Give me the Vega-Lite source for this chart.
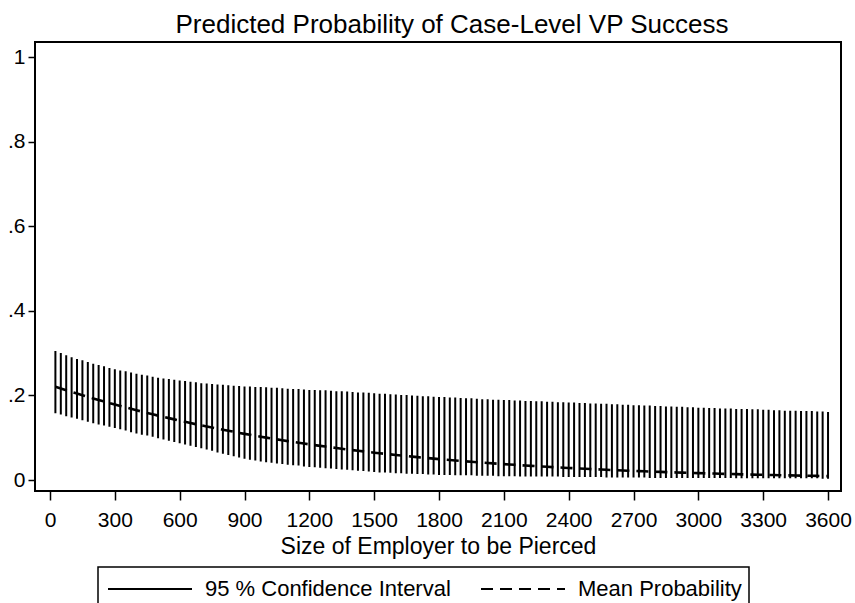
{
  "$schema": "https://vega.github.io/schema/vega-lite/v6.json",
  "width": 806,
  "height": 449,
  "autosize": "none",
  "padding": {"left": 35, "top": 42, "right": 14, "bottom": 112},
  "background": "white",
  "title": {
    "text": "Predicted Probability of Case-Level VP Success",
    "font": "Liberation Sans",
    "fontSize": 26,
    "fontWeight": "normal",
    "color": "black",
    "anchor": "middle",
    "offset": 4,
    "dx": 14
  },
  "data": {"values": [
    {"x":25,"lo":0.158,"hi":0.305,"m":0.2204},{"x":50,"lo":0.155,"hi":0.300,"m":0.2163},{"x":75,"lo":0.151,"hi":0.295,"m":0.2123},{"x":100,"lo":0.148,"hi":0.290,"m":0.2082},
    {"x":125,"lo":0.145,"hi":0.286,"m":0.2044},{"x":150,"lo":0.141,"hi":0.283,"m":0.2006},{"x":175,"lo":0.138,"hi":0.279,"m":0.1967},{"x":200,"lo":0.134,"hi":0.275,"m":0.1929},
    {"x":225,"lo":0.131,"hi":0.272,"m":0.1893},{"x":250,"lo":0.129,"hi":0.269,"m":0.1857},{"x":275,"lo":0.126,"hi":0.265,"m":0.1821},{"x":300,"lo":0.123,"hi":0.262,"m":0.1785},
    {"x":325,"lo":0.120,"hi":0.259,"m":0.1751},{"x":350,"lo":0.117,"hi":0.257,"m":0.1717},{"x":375,"lo":0.113,"hi":0.254,"m":0.1683},{"x":400,"lo":0.110,"hi":0.251,"m":0.1649},
    {"x":425,"lo":0.107,"hi":0.249,"m":0.1617},{"x":450,"lo":0.105,"hi":0.247,"m":0.1586},{"x":475,"lo":0.102,"hi":0.244,"m":0.1554},{"x":500,"lo":0.099,"hi":0.242,"m":0.1522},
    {"x":525,"lo":0.096,"hi":0.240,"m":0.1492},{"x":550,"lo":0.093,"hi":0.239,"m":0.1463},{"x":575,"lo":0.090,"hi":0.237,"m":0.1433},{"x":600,"lo":0.087,"hi":0.235,"m":0.1403},
    {"x":625,"lo":0.084,"hi":0.234,"m":0.1375},{"x":650,"lo":0.081,"hi":0.232,"m":0.1347},{"x":675,"lo":0.078,"hi":0.231,"m":0.1319},{"x":700,"lo":0.075,"hi":0.229,"m":0.1291},
    {"x":725,"lo":0.072,"hi":0.228,"m":0.1265},{"x":750,"lo":0.069,"hi":0.227,"m":0.1240},{"x":775,"lo":0.065,"hi":0.226,"m":0.1214},{"x":800,"lo":0.062,"hi":0.225,"m":0.1188},
    {"x":825,"lo":0.059,"hi":0.224,"m":0.1164},{"x":850,"lo":0.056,"hi":0.223,"m":0.1140},{"x":875,"lo":0.053,"hi":0.222,"m":0.1115},{"x":900,"lo":0.050,"hi":0.221,"m":0.1091},
    {"x":925,"lo":0.048,"hi":0.221,"m":0.1069},{"x":950,"lo":0.046,"hi":0.220,"m":0.1047},{"x":975,"lo":0.044,"hi":0.220,"m":0.1024},{"x":1000,"lo":0.042,"hi":0.219,"m":0.1002},
    {"x":1025,"lo":0.041,"hi":0.218,"m":0.0981},{"x":1050,"lo":0.039,"hi":0.218,"m":0.0961},{"x":1075,"lo":0.038,"hi":0.217,"m":0.0940},{"x":1100,"lo":0.036,"hi":0.216,"m":0.0919},
    {"x":1125,"lo":0.035,"hi":0.215,"m":0.0900},{"x":1150,"lo":0.034,"hi":0.215,"m":0.0881},{"x":1175,"lo":0.032,"hi":0.214,"m":0.0861},{"x":1200,"lo":0.031,"hi":0.213,"m":0.0842},
    {"x":1225,"lo":0.030,"hi":0.213,"m":0.0825},{"x":1250,"lo":0.029,"hi":0.212,"m":0.0807},{"x":1275,"lo":0.028,"hi":0.212,"m":0.0790},{"x":1300,"lo":0.027,"hi":0.211,"m":0.0772},
    {"x":1325,"lo":0.026,"hi":0.210,"m":0.0756},{"x":1350,"lo":0.025,"hi":0.210,"m":0.0739},{"x":1375,"lo":0.024,"hi":0.209,"m":0.0723},{"x":1400,"lo":0.023,"hi":0.208,"m":0.0706},
    {"x":1425,"lo":0.022,"hi":0.207,"m":0.0691},{"x":1450,"lo":0.021,"hi":0.207,"m":0.0676},{"x":1475,"lo":0.020,"hi":0.206,"m":0.0661},{"x":1500,"lo":0.019,"hi":0.205,"m":0.0646},
    {"x":1525,"lo":0.018,"hi":0.204,"m":0.0632},{"x":1550,"lo":0.018,"hi":0.204,"m":0.0618},{"x":1575,"lo":0.017,"hi":0.203,"m":0.0605},{"x":1600,"lo":0.016,"hi":0.202,"m":0.0591},
    {"x":1625,"lo":0.016,"hi":0.201,"m":0.0578},{"x":1650,"lo":0.015,"hi":0.201,"m":0.0565},{"x":1675,"lo":0.015,"hi":0.200,"m":0.0553},{"x":1700,"lo":0.014,"hi":0.199,"m":0.0540},
    {"x":1725,"lo":0.014,"hi":0.198,"m":0.0528},{"x":1750,"lo":0.013,"hi":0.198,"m":0.0517},{"x":1775,"lo":0.013,"hi":0.197,"m":0.0505},{"x":1800,"lo":0.012,"hi":0.196,"m":0.0493},
    {"x":1825,"lo":0.012,"hi":0.196,"m":0.0482},{"x":1850,"lo":0.012,"hi":0.195,"m":0.0472},{"x":1875,"lo":0.011,"hi":0.195,"m":0.0461},{"x":1900,"lo":0.011,"hi":0.194,"m":0.0450},
    {"x":1925,"lo":0.011,"hi":0.193,"m":0.0440},{"x":1950,"lo":0.011,"hi":0.193,"m":0.0431},{"x":1975,"lo":0.010,"hi":0.192,"m":0.0421},{"x":2000,"lo":0.010,"hi":0.191,"m":0.0411},
    {"x":2025,"lo":0.010,"hi":0.191,"m":0.0402},{"x":2050,"lo":0.010,"hi":0.190,"m":0.0393},{"x":2075,"lo":0.009,"hi":0.190,"m":0.0384},{"x":2100,"lo":0.009,"hi":0.189,"m":0.0375},
    {"x":2125,"lo":0.009,"hi":0.189,"m":0.0367},{"x":2150,"lo":0.009,"hi":0.188,"m":0.0359},{"x":2175,"lo":0.008,"hi":0.188,"m":0.0350},{"x":2200,"lo":0.008,"hi":0.187,"m":0.0342},
    {"x":2225,"lo":0.008,"hi":0.187,"m":0.0335},{"x":2250,"lo":0.008,"hi":0.186,"m":0.0327},{"x":2275,"lo":0.008,"hi":0.186,"m":0.0320},{"x":2300,"lo":0.008,"hi":0.185,"m":0.0312},
    {"x":2325,"lo":0.008,"hi":0.185,"m":0.0305},{"x":2350,"lo":0.008,"hi":0.184,"m":0.0298},{"x":2375,"lo":0.007,"hi":0.184,"m":0.0291},{"x":2400,"lo":0.007,"hi":0.183,"m":0.0284},
    {"x":2425,"lo":0.007,"hi":0.183,"m":0.0278},{"x":2450,"lo":0.007,"hi":0.182,"m":0.0272},{"x":2475,"lo":0.007,"hi":0.182,"m":0.0265},{"x":2500,"lo":0.007,"hi":0.181,"m":0.0259},
    {"x":2525,"lo":0.007,"hi":0.181,"m":0.0253},{"x":2550,"lo":0.007,"hi":0.180,"m":0.0248},{"x":2575,"lo":0.006,"hi":0.180,"m":0.0242},{"x":2600,"lo":0.006,"hi":0.179,"m":0.0236},
    {"x":2625,"lo":0.006,"hi":0.179,"m":0.0231},{"x":2650,"lo":0.006,"hi":0.178,"m":0.0226},{"x":2675,"lo":0.006,"hi":0.178,"m":0.0220},{"x":2700,"lo":0.006,"hi":0.177,"m":0.0215},
    {"x":2725,"lo":0.006,"hi":0.177,"m":0.0210},{"x":2750,"lo":0.006,"hi":0.176,"m":0.0206},{"x":2775,"lo":0.005,"hi":0.176,"m":0.0201},{"x":2800,"lo":0.005,"hi":0.175,"m":0.0196},
    {"x":2825,"lo":0.005,"hi":0.175,"m":0.0192},{"x":2850,"lo":0.005,"hi":0.174,"m":0.0187},{"x":2875,"lo":0.005,"hi":0.174,"m":0.0183},{"x":2900,"lo":0.005,"hi":0.173,"m":0.0178},
    {"x":2925,"lo":0.005,"hi":0.173,"m":0.0174},{"x":2950,"lo":0.005,"hi":0.172,"m":0.0170},{"x":2975,"lo":0.005,"hi":0.172,"m":0.0166},{"x":3000,"lo":0.005,"hi":0.171,"m":0.0162},
    {"x":3025,"lo":0.005,"hi":0.171,"m":0.0159},{"x":3050,"lo":0.005,"hi":0.170,"m":0.0155},{"x":3075,"lo":0.005,"hi":0.170,"m":0.0152},{"x":3100,"lo":0.005,"hi":0.169,"m":0.0148},
    {"x":3125,"lo":0.005,"hi":0.169,"m":0.0145},{"x":3150,"lo":0.005,"hi":0.169,"m":0.0141},{"x":3175,"lo":0.004,"hi":0.168,"m":0.0138},{"x":3200,"lo":0.004,"hi":0.168,"m":0.0134},
    {"x":3225,"lo":0.004,"hi":0.168,"m":0.0131},{"x":3250,"lo":0.004,"hi":0.167,"m":0.0128},{"x":3275,"lo":0.004,"hi":0.167,"m":0.0125},{"x":3300,"lo":0.004,"hi":0.166,"m":0.0122},
    {"x":3325,"lo":0.004,"hi":0.166,"m":0.0119},{"x":3350,"lo":0.004,"hi":0.165,"m":0.0117},{"x":3375,"lo":0.004,"hi":0.165,"m":0.0114},{"x":3400,"lo":0.004,"hi":0.164,"m":0.0111},
    {"x":3425,"lo":0.004,"hi":0.164,"m":0.0109},{"x":3450,"lo":0.004,"hi":0.164,"m":0.0106},{"x":3475,"lo":0.004,"hi":0.163,"m":0.0104},{"x":3500,"lo":0.004,"hi":0.163,"m":0.0101},
    {"x":3525,"lo":0.004,"hi":0.163,"m":0.0099},{"x":3550,"lo":0.004,"hi":0.162,"m":0.0097},{"x":3575,"lo":0.003,"hi":0.162,"m":0.0094},{"x":3600,"lo":0.003,"hi":0.161,"m":0.0092}
  ]},
  "encoding": {
    "x": {
      "field": "x", "type": "quantitative",
      "scale": {"domain": [-69.4, 3660], "nice": false, "zero": false},
      "axis": {
        "title": "Size of Employer to be Pierced",
        "values": [0,300,600,900,1200,1500,1800,2100,2400,2700,3000,3300,3600],
        "format": "d",
        "domain": false, "grid": false,
        "tickColor": "black", "tickWidth": 1.5, "tickSize": 9,
        "labelFont": "Liberation Sans", "labelFontSize": 21, "labelColor": "black", "labelPadding": 9,
        "labelFlush": false, "labelOverlap": false,
        "titleFont": "Liberation Sans", "titleFontSize": 23, "titleFontWeight": "normal", "titleColor": "black", "titlePadding": 5
      }
    }
  },
  "layer": [
    {
      "mark": {"type": "rule", "color": "black", "strokeWidth": 2},
      "encoding": {
        "y": {
          "field": "lo", "type": "quantitative",
          "scale": {"domain": [-0.026, 1.0355], "nice": false, "zero": false},
          "axis": {
            "title": null,
            "values": [0, 0.2, 0.4, 0.6, 0.8, 1],
            "labelExpr": "datum.value == 0 || datum.value == 1 ? toString(datum.value) : replace(toString(datum.value), '0.', '.')",
            "domain": false, "grid": false,
            "tickColor": "black", "tickWidth": 1.5, "tickSize": 7,
            "labelFont": "Liberation Sans", "labelFontSize": 21, "labelColor": "black", "labelPadding": 3
          }
        },
        "y2": {"field": "hi"},
        "strokeDash": {
          "datum": "95 % Confidence Interval", "type": "nominal",
          "scale": {"domain": ["95 % Confidence Interval", "Mean Probability"], "range": [[1, 0], [12, 7]]},
          "legend": {
            "orient": "none",
            "legendX": 63,
            "legendY": 525,
            "direction": "horizontal",
            "title": null,
            "symbolType": "M-3,0H3",
            "symbolSize": 784,
            "symbolOffset": 30,
            "symbolStrokeColor": "black",
            "symbolStrokeWidth": 2,
            "labelFont": "Liberation Sans",
            "labelFontSize": 22,
            "labelColor": "black",
            "labelOffset": 40,
            "columnPadding": 26,
            "padding": 7,
            "strokeColor": "black",
            "labelLimit": 400
          }
        }
      }
    },
    {
      "mark": {"type": "line", "color": "black", "strokeWidth": 2.6},
      "encoding": {
        "y": {"field": "m", "type": "quantitative"},
        "strokeDash": {"datum": "Mean Probability", "type": "nominal"}
      }
    }
  ],
  "resolve": {"scale": {"strokeDash": "shared"}},
  "config": {
    "view": {"stroke": "black", "strokeWidth": 2},
    "legend": {"strokeWidth": 1.5}
  }
}
